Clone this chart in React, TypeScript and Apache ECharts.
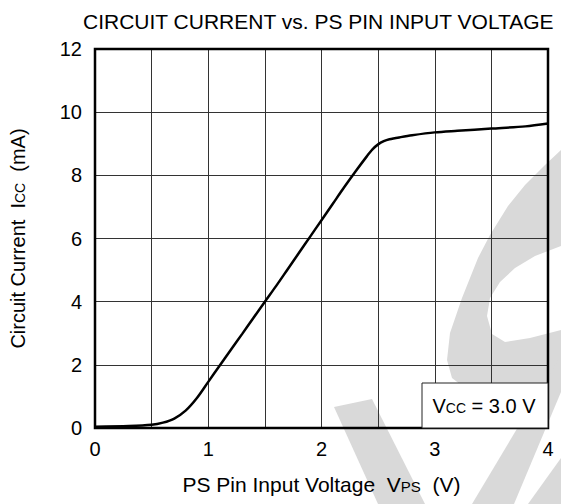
import React, { useEffect, useRef } from "react";
import * as echarts from "echarts";

const voltage = [0, 0.3, 0.5, 0.6, 0.7, 0.8, 0.9, 1.0, 1.1, 1.2, 1.3, 1.4, 1.5, 1.6, 1.7, 1.8, 1.9, 2.0, 2.1, 2.2, 2.3, 2.4, 2.45, 2.5, 2.55, 2.6, 2.7, 2.8, 3.0, 3.2, 3.5, 3.8, 4.0];
const current = [0.04, 0.06, 0.1, 0.17, 0.3, 0.55, 0.95, 1.46, 1.97, 2.48, 2.98, 3.49, 4.0, 4.5, 5.02, 5.54, 6.06, 6.58, 7.1, 7.62, 8.12, 8.6, 8.82, 8.98, 9.08, 9.14, 9.21, 9.27, 9.36, 9.41, 9.48, 9.55, 9.64];
const xTicks = [0, 1, 2, 3, 4];
const yTicks = [0, 2, 4, 6, 8, 10, 12];

const FONT = "'Liberation Sans', Arial, sans-serif";
const WM = "#d9d9d9";

const SUB = { fontSize: 14, fontFamily: FONT, color: "#000", verticalAlign: "bottom", padding: [0, 0, 1, 0] };

export default function App() {
  const ref = useRef<HTMLDivElement>(null);
  useEffect(() => {
    if (!ref.current) return;
    const chart = echarts.init(ref.current, null, { renderer: "svg" });
    chart.setOption({
      animation: false,
      backgroundColor: "#fff",
      textStyle: { fontFamily: FONT },
      title: {
        text: "CIRCUIT CURRENT vs. PS PIN INPUT VOLTAGE",
        left: 78,
        top: 6,
        textStyle: { fontFamily: FONT, fontSize: 21, fontWeight: "normal", color: "#000" },
      },
      grid: {
        left: 94,
        top: 49,
        right: 13,
        bottom: 76,
        show: true,
        borderColor: "#000",
        borderWidth: 2.5,
        backgroundColor: "transparent",
        z: 1,
      },
      xAxis: {
        type: "value",
        min: xTicks[0],
        max: xTicks[xTicks.length - 1],
        interval: 1,
        name: "PS Pin Input Voltage  V{s|PS}  (V)",
        nameLocation: "middle",
        nameGap: 46,
        nameTextStyle: {
          fontFamily: FONT,
          fontSize: 21,
          color: "#000",
          rich: { s: { ...SUB, fontSize: 15 } },
        },
        axisLine: { show: false },
        axisTick: { show: false },
        axisLabel: { fontFamily: FONT, fontSize: 20, color: "#000", margin: 11 },
        splitLine: { show: true, lineStyle: { color: "#333", width: 1 } },
        minorTick: { show: false, splitNumber: 2 },
        minorSplitLine: { show: true, lineStyle: { color: "#333", width: 1 } },
      },
      yAxis: {
        type: "value",
        min: yTicks[0],
        max: yTicks[yTicks.length - 1],
        interval: 2,
        name: "Circuit Current  I{s|CC}  (mA)",
        nameLocation: "middle",
        nameRotate: 90,
        nameGap: 67,
        nameTextStyle: {
          fontFamily: FONT,
          fontSize: 20,
          color: "#000",
          rich: { s: SUB },
        },
        axisLine: { show: false },
        axisTick: { show: false },
        axisLabel: { fontFamily: FONT, fontSize: 20, color: "#000", margin: 13 },
        splitLine: { show: true, lineStyle: { color: "#333", width: 1 } },
      },
      series: [
        {
          type: "line",
          data: voltage.map((v, i) => [v, current[i]]),
          smooth: 0.3,
          showSymbol: false,
          symbol: "none",
          lineStyle: { color: "#000", width: 2.5 },
          z: 5,
        },
      ],
      graphic: [
        {
          type: "group",
          silent: true,
          z: -10,
          children: [
            {
              type: "polygon",
              z: -10,
              shape: {
                points: [
                  [561, 150], [545, 165], [525, 185], [508, 206], [490, 235], [478, 258], [462, 298],
                  [450, 333], [447, 360], [452, 378], [465, 388], [490, 393], [520, 392], [561, 385],
                  [561, 330], [530, 338], [505, 342], [492, 334], [487, 316], [490, 298], [500, 282],
                  [515, 268], [535, 256], [561, 246],
                ],
              },
              style: { fill: WM },
            },
            {
              type: "polygon",
              z: -8,
              shape: { points: [[334, 407], [372, 399], [425, 504], [378, 504]] },
              style: { fill: WM },
            },
            {
              type: "polygon",
              z: -8,
              shape: { points: [[561, 355], [561, 392], [514, 504], [472, 504]] },
              style: { fill: WM },
            },
            {
              type: "polygon",
              z: -8,
              shape: { points: [[561, 458], [561, 504], [528, 504]] },
              style: { fill: WM },
            },
          ],
        },
        {
          type: "group",
          z: 100,
          children: [
            {
              type: "rect",
              z: 100,
              shape: { x: 422, y: 383, width: 126, height: 45 },
              style: { fill: "#fff", stroke: "#222", lineWidth: 1 },
            },
            {
              type: "text",
              z: 101,
              x: 484,
              y: 406,
              style: {
                text: "V{s|CC} = 3.0 V",
                fontFamily: FONT,
                fontSize: 20,
                fill: "#000",
                align: "center",
                verticalAlign: "middle",
                rich: { s: { fontSize: 14, fontFamily: FONT, fill: "#000", verticalAlign: "bottom", padding: [0, 0, 1, 0] } },
              },
            },
          ],
        },
      ],
    });
    return () => chart.dispose();
  }, []);
  return <div ref={ref} style={{ position: "absolute", left: 0, top: 0, width: 561, height: 504 }} />;
}
